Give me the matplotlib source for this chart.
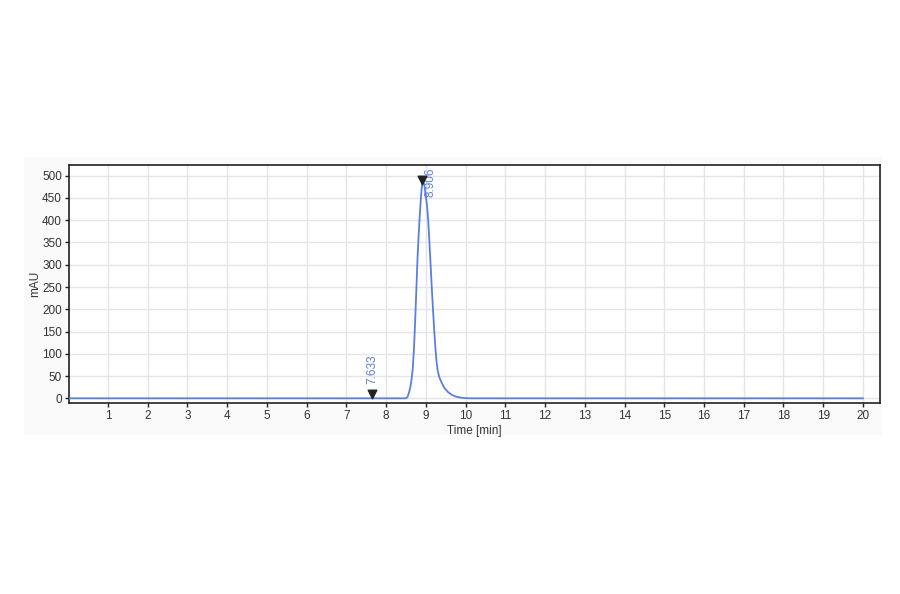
import numpy as np
import matplotlib
matplotlib.use('Agg')
from matplotlib import pyplot as plt
from matplotlib.patches import Rectangle

# Chromatogram trace (time in min, signal in mAU)
time_min = [0.0, 8.0, 8.50, 8.54, 8.58, 8.61, 8.64, 8.67, 8.70, 8.73, 8.76,
            8.79, 8.82, 8.85, 8.88, 8.906, 8.93, 8.96, 9.00, 9.03, 9.06,
            9.09, 9.12, 9.15, 9.18, 9.21, 9.24, 9.27, 9.30, 9.34, 9.40,
            9.47, 9.56, 9.65, 9.75, 9.85, 9.95, 10.1, 20.0]
signal_mau = [0.0, 0.0, 0.0, 3.0, 14.0, 25.0, 42.0, 66.0, 108.0, 170.0, 240.0,
              312.0, 368.0, 415.0, 455.0, 480.0, 488.0, 480.0, 455.0, 432.0, 400.0,
              352.0, 300.0, 248.0, 200.0, 155.0, 114.0, 82.0, 62.0, 47.0, 35.0,
              23.0, 14.0, 8.0, 4.0, 2.0, 0.8, 0.0, 0.0]

# Peak markers
peak_times = [7.633, 8.906]
peak_heights = [10.0, 490.0]
peak_labels = ['7.633', '8.906']

x_ticks = np.arange(1, 21)
y_ticks = np.arange(0, 501, 50)

plt.rcParams['font.family'] = ['Liberation Sans', 'DejaVu Sans']

fig = plt.figure(figsize=(9, 5.94), dpi=100)
W, H = 900, 594

# faint grey panel behind the chart
panel = Rectangle((24 / W, 1 - 435 / H), (882 - 24) / W, (435 - 157) / H,
                  transform=fig.transFigure, facecolor='#fafafa',
                  edgecolor='none', zorder=-10)
fig.add_artist(panel)

ax = fig.add_axes([69 / W, 1 - 403 / H, (880 - 69) / W, (403 - 165) / H])
ax.set_zorder(1)
ax.set_facecolor('white')

ax.plot(time_min, signal_mau, color='#5b7fe0', linewidth=1.3, zorder=3)

ax.scatter(peak_times, peak_heights, marker='v', s=38,
           color='#222222', zorder=4)
ax.text(peak_times[0] + 0.02, 32, peak_labels[0], rotation=90, color='#5b7fe0',
        fontsize=8.5, ha='center', va='bottom')
ax.text(peak_times[1] + 0.21, 518, peak_labels[1], rotation=90, color='#5b7fe0',
        fontsize=8.5, ha='center', va='top')

ax.set_xlim(0.02, 20.43)
ax.set_ylim(-10.5, 524)
ax.set_xticks(x_ticks)
ax.set_yticks(y_ticks)
ax.tick_params(axis='both', labelsize=8.5, length=3, width=1, colors='#222222',
               labelcolor='#333333', pad=2)
ax.grid(True, color='#e4e4ea', linewidth=1)
ax.set_axisbelow(True)
for s in ax.spines.values():
    s.set_linewidth(1.2)
    s.set_color('#222222')

ax.set_xlabel('Time [min]', fontsize=8.5, labelpad=2, color='#333333')
ax.set_ylabel('mAU', fontsize=8.5, labelpad=1, color='#333333')

plt.savefig('out.png', dpi=100)
